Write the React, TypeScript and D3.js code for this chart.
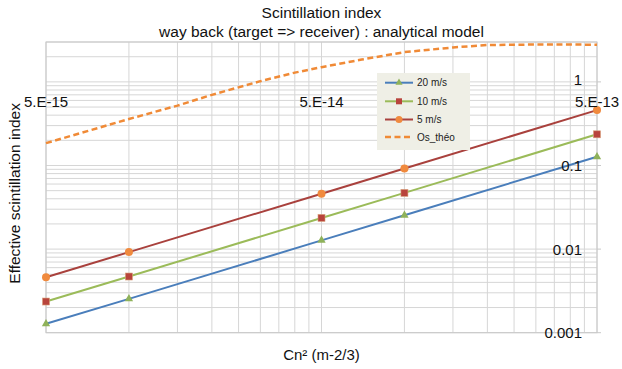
import React from "react";
import * as d3 from "d3";

const cn2Values = [5e-15, 1e-14, 5e-14, 1e-13, 5e-13];
const wind20 = [0.00128, 0.00254, 0.0127, 0.0254, 0.127];
const wind10 = [0.00236, 0.0047, 0.0236, 0.047, 0.236];
const wind5 = [0.0046, 0.0092, 0.046, 0.092, 0.46];

const theoCn2 = [5e-15, 1e-14, 1.5e-14, 2e-14, 3e-14, 4e-14, 5e-14, 7e-14, 1e-13, 1.5e-13, 2e-13, 3e-13, 4e-13, 5e-13];
const theoValues = [0.185, 0.36, 0.52, 0.7, 1.02, 1.29, 1.5, 1.85, 2.27, 2.58, 2.76, 2.8, 2.8, 2.78];

const xTickValues = [5e-15, 5e-14, 5e-13];
const xTickLabels = ["5.E-15", "5.E-14", "5.E-13"];
const yTickValues = [1, 0.1, 0.01, 0.001];
const yTickLabels = ["1", "0.1", "0.01", "0.001"];

const legendLabels = ["20 m/s", "10 m/s", "5 m/s", "Os_théo"];

const W = 622;
const H = 369;
const L = 46, R = 597, T = 42, B = 332.7;
const FONT = "'Liberation Sans', Arial, Helvetica, sans-serif";

const C20 = "#4a7ebb";
const C20m = "#8fb25a";
const C10 = "#9bbb59";
const C10m = "#b8443c";
const C5 = "#a9413d";
const C5m = "#f08a3e";
const CTH = "#f08a36";

export default function App() {
  const x = d3.scaleLog().domain([5e-15, 5e-13]).range([L, R]);
  const y = d3.scaleLog().domain([0.001, 3]).range([B, T]);

  const xGrid: number[] = [];
  [5e-15, 5e-14].forEach((b) => {
    for (let k = 1; k <= 10; k++) xGrid.push(b * k);
  });
  const yGrid: number[] = [];
  for (let e = -3; e <= -1; e++) for (let m = 1; m <= 9; m++) yGrid.push(m * Math.pow(10, e));
  yGrid.push(1, 2, 3);

  const line = d3
    .line<[number, number]>()
    .x((d) => x(d[0]))
    .y((d) => y(d[1]));

  const mk = (vals: number[]) => cn2Values.map((c, i) => [c, vals[i]] as [number, number]);
  const theo = theoCn2.map((c, i) => [c, theoValues[i]] as [number, number]);

  const tri = d3.symbol().type(d3.symbolTriangle).size(30)();

  const legX = 377, legY = 73;
  const rows = [82.7, 101.3, 119.5, 137];

  return (
    <svg width={W} height={H} style={{ display: "block", position: "absolute", left: 0, top: 0, background: "#fff" }} fontFamily={FONT}>
      <rect x={0} y={0} width={W} height={H} fill="#fff" />
      {xGrid.map((v, i) => (
        <line key={"xg" + i} x1={x(v)} x2={x(v)} y1={T} y2={B} stroke="#d6d6d6" strokeWidth={1} />
      ))}
      {yGrid.map((v, i) => (
        <line key={"yg" + i} x1={L} x2={R} y1={y(v)} y2={y(v)} stroke="#d6d6d6" strokeWidth={1} />
      ))}
      <rect x={L} y={T} width={R - L} height={B - T} fill="none" stroke="#c8c8c8" strokeWidth={1} />
      {yTickValues.map((v, i) => (
        <line key={"yt" + i} x1={R} x2={R + 4} y1={y(v)} y2={y(v)} stroke="#c8c8c8" />
      ))}

      {/* theory curve */}
      <path d={line(theo) || ""} fill="none" stroke={CTH} strokeWidth={2.5} strokeDasharray="6,3.5" />

      {/* series lines */}
      <path d={line(mk(wind20)) || ""} fill="none" stroke={C20} strokeWidth={2} />
      <path d={line(mk(wind10)) || ""} fill="none" stroke={C10} strokeWidth={2} />
      <path d={line(mk(wind5)) || ""} fill="none" stroke={C5} strokeWidth={2} />

      {mk(wind20).map((d, i) => (
        <path key={"m20" + i} d={tri || ""} transform={`translate(${x(d[0])},${y(d[1])})`} fill={C20m} />
      ))}
      {mk(wind10).map((d, i) => (
        <rect key={"m10" + i} x={x(d[0]) - 3.5} y={y(d[1]) - 3.5} width={7} height={7} fill={C10m} stroke="#d9a07a" strokeWidth={0.6} />
      ))}
      {mk(wind5).map((d, i) => (
        <circle key={"m5" + i} cx={x(d[0])} cy={y(d[1])} r={4} fill={C5m} />
      ))}

      {/* axis labels */}
      {xTickValues.map((v, i) => (
        <text key={"xl" + i} x={x(v)} y={101} fontSize={15} textAnchor="middle" dominantBaseline="central" fill="#111">
          {xTickLabels[i]}
        </text>
      ))}
      {yTickValues.map((v, i) => (
        <text key={"yl" + i} x={582} y={y(v) - (v === 1 ? 2 : 0)} fontSize={15} textAnchor="end" dominantBaseline="central" fill="#111">
          {yTickLabels[i]}
        </text>
      ))}

      {/* legend */}
      <rect x={legX} y={legY} width={93} height={77} fill="#efefe6" />
      {legendLabels.map((lab, i) => {
        const ry = rows[i];
        const x1 = 385, x2 = 413, cx = 399;
        return (
          <g key={"lg" + i}>
            {i === 0 && <line x1={x1} x2={x2} y1={ry} y2={ry} stroke={C20} strokeWidth={2} />}
            {i === 0 && <path d={d3.symbol().type(d3.symbolTriangle).size(22)() || ""} transform={`translate(${cx},${ry})`} fill={C20m} />}
            {i === 1 && <line x1={x1} x2={x2} y1={ry} y2={ry} stroke={C10} strokeWidth={2} />}
            {i === 1 && <rect x={cx - 3} y={ry - 3} width={6} height={6} fill={C10m} />}
            {i === 2 && <line x1={x1} x2={x2} y1={ry} y2={ry} stroke={C5} strokeWidth={2} />}
            {i === 2 && <circle cx={cx} cy={ry} r={3.5} fill={C5m} />}
            {i === 3 && <line x1={x1} x2={x2} y1={ry} y2={ry} stroke={CTH} strokeWidth={2.5} strokeDasharray="6,3.5" />}
            <text x={417} y={ry} fontSize={10} dominantBaseline="central" fill="#222">
              {lab}
            </text>
          </g>
        );
      })}

      {/* titles */}
      <text x={321.5} y={17.5} fontSize={15.5} textAnchor="middle" fill="#111">Scintillation index</text>
      <text x={321.5} y={36.5} fontSize={15.5} textAnchor="middle" fill="#111">way back (target =&gt; receiver) : analytical model</text>
      <text x={321.5} y={360} fontSize={15} textAnchor="middle" fill="#111">Cn² (m-2/3)</text>
      <text transform={`translate(20,${(T + B) / 2 + 6}) rotate(-90)`} fontSize={15.5} textAnchor="middle" fill="#111">
        Effective scintillation index
      </text>
    </svg>
  );
}
